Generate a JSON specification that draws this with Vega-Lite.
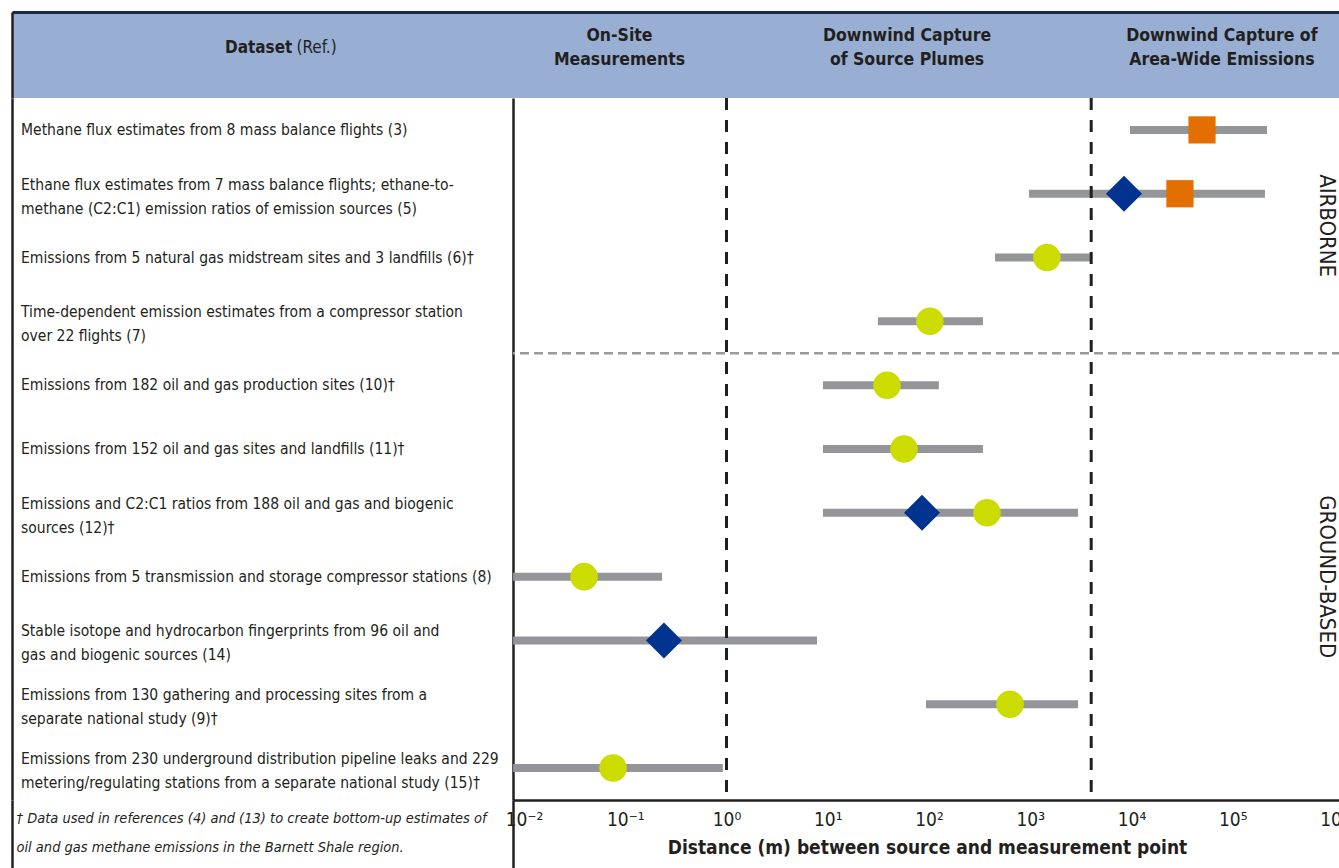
{
  "$schema": "https://vega.github.io/schema/vega-lite/v6.json",
  "padding": {"left": 10, "top": 12, "right": 0, "bottom": 0},
  "background": "white",
  "config": {
    "font": "Liberation Sans Narrow, DejaVu Sans Condensed, Roboto, sans-serif",
    "view": {"stroke": null},
    "axis": {"grid": false}
  },
  "datasets": {
    "rows": [
      {"ref": 3, "platform": "Airborne", "dataset": "Methane flux estimates from 8 mass balance flights (3)", "lo": 9660, "hi": 218000, "square": 49700},
      {"ref": 5, "platform": "Airborne", "dataset": "Ethane flux estimates from 7 mass balance flights; ethane-to-\nmethane (C2:C1) emission ratios of emission sources (5)", "lo": 973, "hi": 208000, "diamond": 8430, "square": 30100},
      {"ref": 6, "platform": "Airborne", "dataset": "Emissions from 5 natural gas midstream sites and 3 landfills (6)†", "lo": 449, "hi": 3980, "circle": 1460},
      {"ref": 7, "platform": "Airborne", "dataset": "Time-dependent emission estimates from a compressor station\nover 22 flights (7)", "lo": 31.3, "hi": 341, "circle": 102},
      {"ref": 10, "platform": "Ground-based", "dataset": "Emissions from 182 oil and gas production sites (10)†", "lo": 8.97, "hi": 125, "circle": 38.5},
      {"ref": 11, "platform": "Ground-based", "dataset": "Emissions from 152 oil and gas sites and landfills (11)†", "lo": 8.97, "hi": 341, "circle": 56.6},
      {"ref": 12, "platform": "Ground-based", "dataset": "Emissions and C2:C1 ratios from 188 oil and gas and biogenic\nsources (12)†", "lo": 8.97, "hi": 2960, "diamond": 85.3, "circle": 374},
      {"ref": 8, "platform": "Ground-based", "dataset": "Emissions from 5  transmission and storage compressor stations (8)", "lo": 0.0078, "hi": 0.231, "circle": 0.0392},
      {"ref": 14, "platform": "Ground-based", "dataset": "Stable isotope and hydrocarbon fingerprints from 96 oil and\ngas and biogenic sources (14)", "lo": 0.0078, "hi": 7.83, "diamond": 0.241},
      {"ref": 9, "platform": "Ground-based", "dataset": "Emissions from 130 gathering and processing sites from a\nseparate national study (9)†", "lo": 93.3, "hi": 2960, "circle": 631},
      {"ref": 15, "platform": "Ground-based", "dataset": "Emissions from 230 underground distribution pipeline leaks and 229\nmetering/regulating stations from a separate national study (15)†", "lo": 0.0078, "hi": 0.92, "circle": 0.0757}
    ],
    "headers": [
      {"heading": "On-Site\nMeasurements", "mid": 0.0877},
      {"heading": "Downwind Capture\nof Source Plumes", "mid": 60.7},
      {"heading": "Downwind Capture of\nArea-Wide Emissions", "mid": 78000}
    ],
    "boundaries": [
      {"boundary": 1},
      {"boundary": 4000}
    ]
  },
  "spacing": 0,
  "bounds": "flush",
  "resolve": {"scale": {"x": "independent", "y": "independent"}},
  "vconcat": [
    {
      "width": 1329,
      "height": 86,
      "view": {"fill": "#98AFD3", "stroke": null},
      "encoding": {
        "y": {"datum": "h", "type": "nominal", "axis": {"orient": "left", "domain": true, "domainColor": "#231f20", "domainWidth": 2.5, "labels": false, "ticks": false, "title": null}}
      },
      "layer": [
        {
          "data": {"values": [{}]},
          "mark": {"type": "text", "align": "right", "baseline": "middle", "dx": -2, "dy": -7, "fontSize": 17, "fontWeight": "bold", "color": "#231f20"},
          "encoding": {
            "x": {"datum": 0.000054, "type": "quantitative", "scale": {"type": "log", "domain": [8.77e-8, 1172000], "nice": false}, "axis": {"orient": "top", "domain": true, "domainColor": "#1c2946", "domainWidth": 3, "labels": false, "ticks": false, "title": null}},
            "text": {"value": "Dataset"}
          }
        },
        {
          "data": {"values": [{}]},
          "mark": {"type": "text", "align": "left", "baseline": "middle", "dx": 2, "dy": -7, "fontSize": 17, "fontWeight": "normal", "color": "#231f20"},
          "encoding": {
            "x": {"datum": 0.000054, "type": "quantitative"},
            "text": {"value": "(Ref.)"}
          }
        },
        {
          "data": {"name": "headers"},
          "mark": {"type": "text", "align": "center", "baseline": "middle", "dy": -19, "lineBreak": "\n", "lineHeight": 24, "fontSize": 17.5, "fontWeight": "bold", "color": "#231f20"},
          "encoding": {
            "x": {"field": "mid", "type": "quantitative"},
            "text": {"field": "heading", "type": "nominal"}
          }
        }
      ]
    },
    {
      "spacing": 0,
      "bounds": "flush",
      "resolve": {"scale": {"x": "independent", "y": "independent"}},
      "hconcat": [
        {
          "width": 501,
          "height": 702,
          "data": {"name": "rows"},
          "encoding": {
            "x": {
              "datum": 0.018, "type": "quantitative",
              "scale": {"domain": [0, 1], "nice": false, "zero": false},
              "axis": {"orient": "bottom", "values": [0, 1], "domain": false, "labels": false, "ticks": true, "tickSize": 68, "tickWidth": 2.5, "tickColor": "#231f20",
                "title": ["† Data used in references (4) and (13) to create bottom-up estimates of", "oil and gas methane emissions in the Barnett Shale region."],
                "titleFontStyle": "italic", "titleFontWeight": "normal", "titleFontSize": 14.5, "titleColor": "#231f20", "titleLineHeight": 29,
                "titleAnchor": "start", "titleAlign": "left", "titleBaseline": "top", "titleX": 4, "titleY": 11}
            },
            "y": {
              "field": "dataset", "type": "nominal", "sort": null,
              "scale": {"type": "band", "paddingInner": 0, "paddingOuter": 0},
              "axis": {"orient": "left", "domain": true, "domainColor": "#231f20", "domainWidth": 2.5, "labels": false, "ticks": false, "title": null}
            }
          },
          "layer": [
            {
              "mark": {"type": "text", "align": "left", "baseline": "middle", "fontSize": 15.5, "color": "#231f20"},
              "encoding": {
                "text": {"condition": {"test": "indexof(datum.dataset, '\\n') < 0", "field": "dataset", "type": "nominal"}, "value": ""}
              }
            },
            {
              "transform": [{"filter": "indexof(datum.dataset, '\\n') >= 0"}],
              "mark": {"type": "text", "align": "left", "baseline": "middle", "dy": -9, "lineBreak": "\n", "lineHeight": 24, "fontSize": 15.5, "color": "#231f20"},
              "encoding": {
                "text": {"field": "dataset", "type": "nominal"}
              }
            }
          ]
        },
        {
          "width": 828,
          "height": 702,
          "encoding": {
            "x": {
              "type": "quantitative",
              "scale": {"type": "log", "domain": [0.007785, 1173000], "nice": false},
              "axis": {
                "orient": "bottom",
                "values": [0.01, 0.1, 1, 10, 100, 1000, 10000, 100000, 1000000],
                "labelExpr": "'10' + ['⁻²','⁻¹','⁰','¹','²','³','⁴','⁵','⁶'][round(log(datum.value)/LN10)+2]",
                "labelFontSize": 19, "labelColor": "#231f20", "labelPadding": 10, "labelFlush": false, "labelOverlap": false,
                "domain": true, "domainColor": "#231f20", "domainWidth": 2.5, "ticks": false,
                "title": "Distance (m) between source and measurement point",
                "titleFontSize": 19, "titleFontWeight": "bold", "titleColor": "#231f20", "titlePadding": 9
              }
            }
          },
          "layer": [
            {
              "data": {"name": "rows"},
              "layer": [
                {
                  "mark": {"type": "rule", "color": "#939598", "strokeWidth": 8},
                  "encoding": {
                    "x": {"field": "lo", "type": "quantitative"},
                    "x2": {"field": "hi"},
                    "y": {"field": "dataset", "type": "nominal", "sort": null,
                      "scale": {"type": "band", "paddingInner": 0, "paddingOuter": 0},
                      "axis": {"orient": "left", "domain": true, "domainColor": "#231f20", "domainWidth": 2.5, "labels": false, "ticks": false, "title": null}}
                  }
                },
                {
                  "mark": {"type": "point", "shape": "circle", "filled": true, "opacity": 1, "size": 760, "color": "#CCDC00"},
                  "encoding": {
                    "x": {"field": "circle", "type": "quantitative"},
                    "y": {"field": "dataset", "type": "nominal", "sort": null}
                  }
                },
                {
                  "mark": {"type": "point", "shape": "diamond", "filled": true, "opacity": 1, "size": 1300, "color": "#00338F"},
                  "encoding": {
                    "x": {"field": "diamond", "type": "quantitative"},
                    "y": {"field": "dataset", "type": "nominal", "sort": null}
                  }
                },
                {
                  "mark": {"type": "point", "shape": "square", "filled": true, "opacity": 1, "size": 740, "color": "#E36F00"},
                  "encoding": {
                    "x": {"field": "square", "type": "quantitative"},
                    "y": {"field": "dataset", "type": "nominal", "sort": null}
                  }
                },
                {
                  "transform": [
                    {"window": [{"op": "row_number", "as": "rn"}], "groupby": ["platform"]},
                    {"filter": "datum.rn == 1 && datum.platform == 'Ground-based'"}
                  ],
                  "mark": {"type": "rule", "color": "#9a9a9a", "strokeWidth": 2.5, "strokeDash": [9, 5]},
                  "encoding": {
                    "y": {"field": "dataset", "type": "nominal", "sort": null, "bandPosition": 0}
                  }
                },
                {
                  "transform": [
                    {"window": [{"op": "row_number", "as": "rn"}], "groupby": ["platform"]},
                    {"filter": "datum.rn == 2 && datum.platform == 'Airborne'"}
                  ],
                  "mark": {"type": "text", "angle": 90, "align": "center", "baseline": "middle", "fontSize": 22, "color": "#231f20"},
                  "encoding": {
                    "x": {"datum": 850000, "type": "quantitative"},
                    "y": {"field": "dataset", "type": "nominal", "sort": null, "bandPosition": 1},
                    "text": {"value": "AIRBORNE"}
                  }
                },
                {
                  "transform": [
                    {"window": [{"op": "row_number", "as": "rn"}], "groupby": ["platform"]},
                    {"filter": "datum.rn == 4 && datum.platform == 'Ground-based'"}
                  ],
                  "mark": {"type": "text", "angle": 90, "align": "center", "baseline": "middle", "fontSize": 22, "color": "#231f20"},
                  "encoding": {
                    "x": {"datum": 850000, "type": "quantitative"},
                    "y": {"field": "dataset", "type": "nominal", "sort": null},
                    "text": {"value": "GROUND-BASED"}
                  }
                }
              ]
            },
            {
              "data": {"name": "boundaries"},
              "mark": {"type": "rule", "color": "#231f20", "strokeWidth": 3, "strokeDash": [12, 10]},
              "encoding": {"x": {"field": "boundary", "type": "quantitative"}}
            }
          ]
        }
      ]
    }
  ]
}
